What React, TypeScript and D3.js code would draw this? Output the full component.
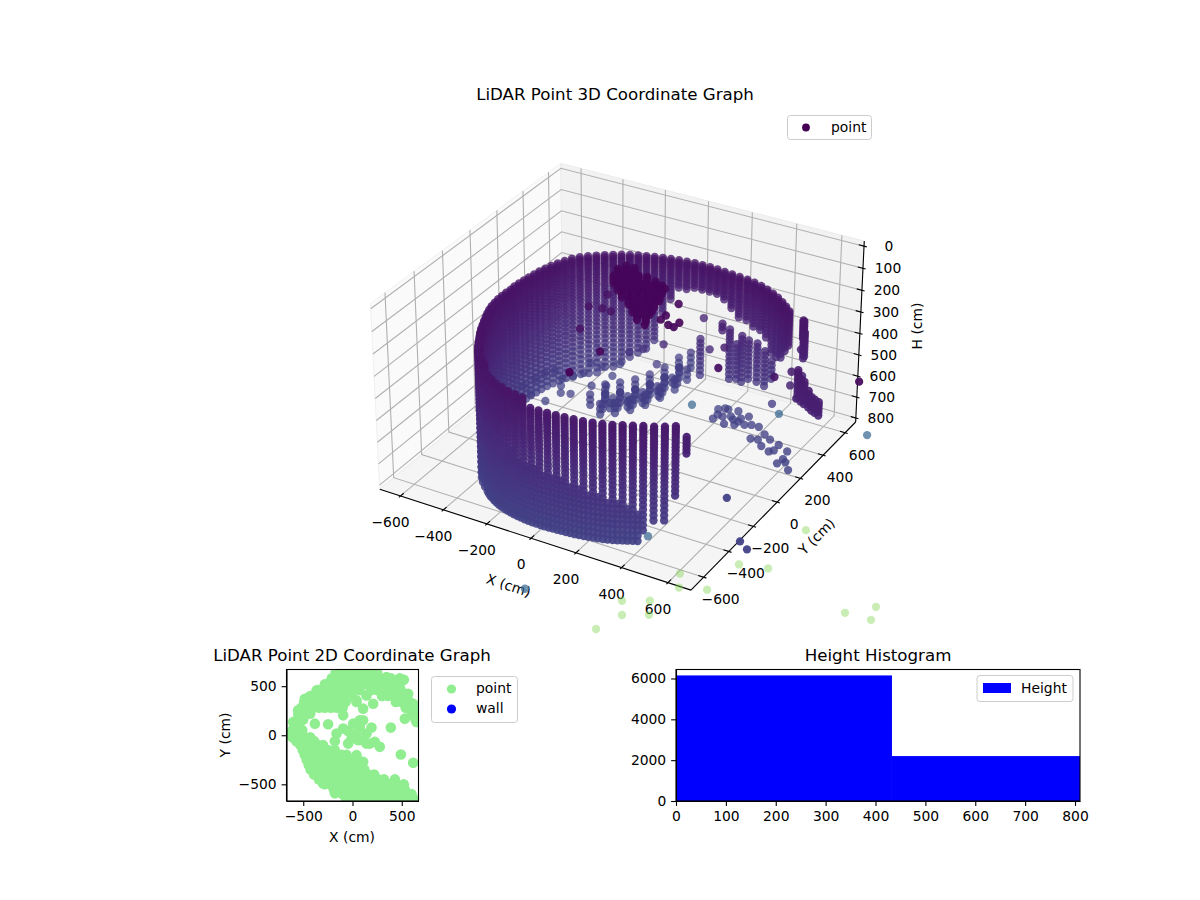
import { useEffect, useRef } from 'react';
import * as d3 from 'd3';

type Column = [number, number, number, number];
type Stray = [number, number, number, number];

// heights the scanner stepped through (cm), steps widen away from the sensor
const levels = [62, 73, 85, 96, 108, 119, 131, 142, 154, 165, 177, 188, 200, 210, 220, 230, 240, 251, 262, 274, 286, 298, 311, 324, 338, 352, 367, 382, 398, 414, 431, 448, 466, 484, 503, 522, 542, 562, 583, 604, 626, 648, 671, 694, 718, 742, 767, 792];

// wall columns: azimuth (deg), radius (cm), top and bottom height (cm)
const wallAngle = [178, 181.3, 184.6, 187.9, 191.2, 194.5, 197.8, 201.1, 204.4, 207.7, 211, 214.3, 217.6, 220.9, 224.2, 227.5, 230.8, 234.1, 237.4, 240.7, 244, 247.3, 250.6, 253.9, 257.2, 260.5, 263.8, 267.1, 270.4, 273.7, 277, 280.3, 283.6, 286.9, 290.2, 293.5, 296.8, 300.1, 303.4, 306.7, 310, 313.3, 316.6, 319.9,
  174.7, 171.3, 167.9, 164.5, 161.1, 157.7, 154.3, 150.9, 147.5, 144.1, 140.7, 137.3, 133.9, 130.5, 127.1, 123.7, 120.3, 116.9, 113.5, 110.1, 106.7, 103.3, 99.9, 96.5, 93.1, 89.7, 86.3, 82.9, 79.5, 76.1, 72.7, 69.3, 65.9, 62.5, 59.1, 55.7, 52.3, 48.9, 45.5, 42.1, 38.7];
const wallRadius = [525, 527, 529, 531, 533, 535, 536, 537, 538, 541, 545, 551, 557, 563, 572, 582, 592, 600, 606, 612, 620, 625, 630, 632, 634, 635, 636, 636, 636, 636, 637, 640, 643, 647, 650, 654, 658, 660, 664, 670, 680, 688, 696, 704,
  528, 530, 532, 536, 540, 547, 553, 560, 567, 573, 580, 582, 581, 580, 579, 578, 577, 576, 575, 574, 574, 575, 576, 578, 580, 583, 586, 589, 592, 596, 602, 610, 620, 628, 636, 642, 648, 653, 657, 661, 665];
const wallTop = [210, 210, 210, 210, 210, 210, 210, 210, 210, 210, 210, 210, 210, 210, 210, 210, 210, 210, 210, 210, 240, 240, 240, 240, 240, 240, 240, 269, 269, 269, 269, 269, 269, 269, 269, 269, 269, 269, 269, 269, 269, 269, 269, 315,
  210, 210, 210, 210, 210, 210, 210, 210, 210, 210, 210, 210, 210, 210, 210, 210, 210, 210, 210, 210, 210, 210, 210, 210, 210, 210, 210, 210, 210, 210, 210, 210, 210, 210, 210, 210, 210, 210, 210, 210, 210];
const wallBottom = [720, 735, 750, 760, 770, 780, 790, 798, 798, 798, 798, 798, 798, 798, 798, 798, 798, 798, 798, 798, 798, 798, 798, 798, 798, 798, 798, 798, 798, 798, 798, 798, 798, 798, 798, 798, 798, 798, 798, 752, 706, 706, 590, 407,
  780, 780, 780, 780, 780, 780, 780, 780, 780, 780, 780, 780, 780, 780, 760, 745, 730, 710, 680, 650, 610, 480, 400, 350, 340, 330, 330, 330, 330, 350, 380, 400, 400, 420, 430, 440, 500, 490, 470, 420, 380];

// the lower front of the wall is scanned more densely
const lowerAngle = [242.3, 245.6, 248.9, 252.2, 255.5, 258.8, 262.1, 265.4, 268.7, 272, 275.3, 278.6, 281.9, 285.2, 288.5, 291.8, 295.1, 298.4, 301.7, 305];
const lowerRadius = [616, 622, 627, 631, 633, 634, 635, 636, 636, 636, 636, 638, 641, 645, 648, 652, 656, 659, 662, 667];
const lowerTop = [430, 440, 450, 470, 490, 500, 527, 530, 540, 545, 550, 560, 570, 580, 590, 600, 610, 620, 640, 660];

// x, y, top, bottom (cm)
const floorArc: Column[] = [
  [-288, 235, 742, 798], [-239, 273, 742, 798], [-190, 311, 742, 798], [-148, 363, 742, 798], [-116, 429, 742, 798], [-91, 509, 742, 798], [-78, 612, 742, 798], [-77, 708, 718, 798],
  [-276, 337, 742, 798], [-231, 382, 742, 798], [-189, 434, 742, 798], [-157, 500, 742, 798], [-132, 581, 742, 798], [-120, 683, 742, 798],
  [-215, 191, 742, 798], [-167, 229, 742, 798], [-125, 281, 742, 798], [-92, 347, 742, 798], [-67, 428, 742, 798], [-47, 516, 742, 798], [-42, 613, 742, 798],
  [-258, 305, 767, 798], [-210, 346, 767, 798], [-168, 398, 767, 798], [-136, 465, 767, 798], [-112, 545, 767, 798], [-99, 648, 767, 798],
  [-227, 232, 767, 798], [-178, 270, 767, 798], [-136, 322, 767, 798], [-104, 388, 767, 798], [-79, 468, 767, 798], [-62, 564, 767, 798],
  [-214, 292, 767, 798], [-169, 337, 767, 798], [-132, 396, 767, 798], [-103, 469, 767, 798], [-84, 560, 767, 798], [-203, 251, 767, 798], [-146, 296, 767, 798], [-109, 355, 767, 798], [-80, 437, 767, 798],
  [-551, 197, 798, 798], [-469, 178, 798, 798], [-448, 266, 798, 798], [-409, 280, 798, 798],
];
const floorDots: Column[] = [
  [-613, 238, 798, 798], [-602, 311, 798, 798], [-591, 373, 798, 798], [-563, 409, 798, 798], [-502, 368, 798, 798], [-472, 405, 798, 798], [-449, 455, 798, 798], [-477, 316, 798, 798],
  [-367, 380, 798, 798], [-333, 494, 798, 798], [-465, 541, 798, 798], [-409, 535, 798, 798], [-354, 595, 798, 798], [-314, 410, 798, 798],
];
const rightBandA: Column[] = [
  [196, 400, 798, 798], [180, 476, 798, 798], [201, 497, 798, 798], [252, 451, 798, 798], [297, 430, 798, 798], [331, 420, 798, 798], [356, 434, 798, 798], [389, 435, 798, 798],
  [197, 438, 798, 798], [223, 434, 798, 798], [216, 496, 798, 798], [271, 434, 798, 798], [255, 386, 798, 798], [295, 400, 798, 798], [295, 457, 798, 798], [316, 487, 798, 798], [259, 503, 798, 798],
];
const rightBandB: Column[] = [
  [402, 338, 798, 798], [431, 346, 798, 798], [436, 395, 798, 798], [474, 370, 798, 798], [523, 351, 798, 798], [466, 309, 798, 798], [511, 287, 798, 798], [525, 304, 798, 798],
  [575, 324, 798, 798], [587, 264, 798, 798], [581, 224, 798, 798], [606, 247, 798, 798], [642, 201, 798, 798],
];
const shelfColumns: Column[] = [
  [219, 490, 407, 660], [244, 505, 476, 660], [273, 494, 430, 660], [286, 529, 453, 660], [327, 525, 453, 660], [369, 511, 476, 660], [368, 576, 545, 660], [209, 443, 361, 407], [64, 528, 522, 706],
];
const cornerColumns: Column[] = [
  [592, 403, 223, 407], [600, 395, 269, 384], [585, 410, 223, 315], [754, 89, 292, 407], [711, 120, 269, 407], [801, 60, 338, 407], [841, 40, 338, 407], [735, 100, 292, 407], [780, 75, 315, 407], [820, 50, 338, 407],
];
const singleDots: Column[] = [
  [69, 545, 430, 430], [175, 401, 476, 476], [331, 231, 338, 338], [599, 367, 338, 338], [-6, 344, 476, 476], [-143, 534, 706, 706], [-214, 427, 614, 614], [-157, 443, 591, 591],
  [533, -201, 154, 154], [677, -15, 246, 246], [646, 194, 338, 338], [621, 237, 430, 430], [670, 194, 453, 453], [419, 488, 706, 706], [662, 256, 384, 384],
  [-161, 162, 200, 200], [-176, 40, 200, 200], [-121, 52, 200, 200], [-80, 48, 200, 200], [-113, -133, 200, 200], [125, -384, 108, 108], [146, -642, 62, 62],
];
const lampBlob: Column[] = [
  [-106, 148, 62, 96], [-89, 185, 62, 96], [-53, 188, 62, 96], [-91, 90, 62, 96], [-67, 113, 62, 96], [-38, 130, 62, 96], [-6, 139, 62, 96], [27, 148, 62, 96], [76, 129, 62, 96], [114, 113, 62, 96],
  [-48, 48, 62, 96], [-23, 71, 62, 96], [9, 81, 62, 96], [42, 90, 62, 96], [78, 92, 62, 96], [123, 80, 62, 96], [-5, 6, 62, 96], [24, 23, 62, 96], [56, 32, 62, 96], [89, 41, 62, 96], [125, 44, 62, 96],
  [45, -31, 62, 96], [77, -21, 62, 96], [111, -13, 62, 96], [143, -3, 62, 96], [92, -79, 62, 96], [124, -70, 62, 96], [157, -62, 62, 96], [135, -121, 62, 96], [172, -119, 62, 96],
  [136, 98, 62, 62], [241, 16, 62, 62], [242, -126, 62, 62], [287, -148, 62, 62], [315, -112, 62, 62], [313, -152, 62, 62], [243, -88, 62, 62], [165, 0, 62, 62], [181, -86, 62, 62], [157, -127, 62, 62], [209, -193, 62, 62],
];

// points that fall outside the box: x, y, z, colour value
const strayPoints: Stray[] = [
  [624, -650, 798, 3300], [634, -674, 844, 3300], [727, -625, 851, 3300], [462, -802, 887, 3300], [552, -750, 887, 3300], [475, -825, 934, 3300], [562, -774, 934, 3300], [404, -896, 980, 3300],
  [992, -345, 655, 3300], [807, -525, 768, 3300], [905, -477, 781, 3300], [1195, -404, 927, 3300], [1290, -337, 907, 3300], [1286, -367, 950, 3300],
  [1102, -78, 343, 1300], [136, -964, 848, 1300], [486, -650, 675, 1300], [507, -357, 243, 1300], [797, -209, 273, 1300],
  [1027, -8, 167, 130], [819, -486, 718, 800], [789, -486, 692, 800], [706, -441, 549, 800],
];

// 2D view, x and y (cm)
const planX = [-619, -535, -484, -433, -382, -298, -179, -61, 74, 210, 345, 481, 582,
  -602, -552, -484, -365, -247, -162, -61, 74, 210, 345, 481, 565, 616, 650, 521,
  531, 650, 616, 491, 389, -247, -382, -95, -179, 41, 108, 41, 108, 210, 142, 108, 7, -95, -162, 41, 108, 193, 176, 277, -44, 58, 142, 74, -44, 74, -10, 227, 142];
const planY = [17, -51, -152, -288, -389, -491, -592, -660, -694, -694, -660, -643, -643,
  135, 254, 372, 457, 525, 609, 643, 643, 626, 592, 525, 423, 321, 237, 565,
  169, 135, -281, -196, 78, 112, 118, 203, -61, -203, -271, 355, 271, 321, 406, 152, 118, 68, 17, 17, -51, 78, -85, -118, -85, -51, 17, 85, 44, 152, -34, -68, -85];
// filled parts of the two wall bands: row y, then x positions
const planRows: [number, number[]][] = [
  [640, [-170, -110, -50, 10, 70, 130, 190, 250]],
  [580, [-210, -150, -90, -30, 30, 90, 150, 210, 270, 330, 390, 480]],
  [520, [-280, -220, -160, -100, -40, 20, 80, 140, 200, 260, 320, 380, 440]],
  [460, [-350, -290, -230, -170, -110, -50, 10, 70, 190, 250, 310, 370, 430, 490]],
  [400, [-430, -370, -310, -250, -190, -130, -70, -10, 300, 360, 420, 480, 540]],
  [340, [-490, -430, -370, -310, -250, -190, -130, -70, 40, 440, 500, 580]],
  [280, [-520, -460, -400, -340, -280, -220, -160, -100, 540, 600]],
  [220, [-550, -490, -430, 600, 650]],
  [160, [-560, -500, 640]],
  [100, [-590, -540]],
  [50, [-610, -560, -510]],
  [-20, [-610, -550, -490, -430]],
  [-60, [-570, -510, -450, -390]],
  [-100, [-530, -470, -410, -350, -300]],
  [-150, [-505, -430, -370, -310, -250, -180]],
  [-200, [-485, -410, -350, -290, -230, -170, -110, -60]],
  [-250, [-465, -390, -330, -270, -210, -150, -90, -30]],
  [-300, [-445, -370, -310, -250, -190, -130, -70, -10, 40]],
  [-350, [-425, -350, -290, -230, -170, -110, -50, 10, 70, 120]],
  [-400, [-390, -320, -260, -200, -140, -80, -20, 40, 100, 160, 220]],
  [-450, [-340, -280, -220, -160, -100, -40, 20, 80, 140, 200, 260, 320, 430]],
  [-500, [-280, -220, -160, -100, -40, 20, 80, 140, 200, 260, 320, 380, 440, 520]],
  [-550, [-190, -130, -70, -10, 50, 110, 170, 230, 290, 350, 410, 470, 530]],
  [-600, [-100, -40, 20, 80, 140, 200, 260, 320, 380, 440, 500, 560, 600]],
  [-650, [-60, 20, 80, 140, 200, 260, 320, 380, 440, 500, 560, 620]],
];

const histEdges = [0, 433, 810];
const histCounts = [6150, 2200];

const axisTicks3d = [-600, -400, -200, 0, 200, 400, 600];
const heightTicks = [0, 100, 200, 300, 400, 500, 600, 700, 800];
const planTicks = [-500, 0, 500];
const histXTicks = [0, 100, 200, 300, 400, 500, 600, 700, 800];
const histYTicks = [0, 2000, 4000, 6000];

const FONT = '"DejaVu Sans", sans-serif';

// same camera as mplot3d: elev 30, azim -60, dist 10
const U = [0.866025, 0.5, 0];
const V = [-0.25, 0.433013, 0.866025];
const W = [0.433013, -0.75, 0.5];
const boxX = d3.scaleLinear().domain([-670, 670]).range([-0.5952, 0.5952]);
const boxZ = d3.scaleLinear().domain([802, -6]).range([-0.355, 0.355]);
const screenX = d3.scaleLinear().domain([0, 1]).range([622.3, 622.3 + 2860]);
const screenY = d3.scaleLinear().domain([0, 1]).range([365, 365 - 2860]);

const project = (x: number, y: number, z: number) => {
  const q = [boxX(x), boxX(y), boxZ(z)];
  const dot = (a: number[]) => a[0] * q[0] + a[1] * q[1] + a[2] * q[2];
  const d = 10 - dot(W);
  return { px: screenX(dot(U) / d), py: screenY(dot(V) / d), d };
};

const App = () => {
  const svgRef = useRef<SVGSVGElement | null>(null);

  useEffect(() => {
    if (!svgRef.current) return;
    const svg = d3.select(svgRef.current);
    svg.selectAll('*').remove();

    const text = (g: any, x: number, y: number, s: string, size = 13.89, anchor = 'middle', rotate = 0) => {
      g.append('text')
        .attr('transform', `translate(${x},${y}) rotate(${rotate})`)
        .attr('text-anchor', anchor)
        .attr('font-family', FONT)
        .attr('font-size', size)
        .attr('fill', '#000')
        .text(s);
    };

    const legendBox = (x: number, y: number, w: number, h: number) => {
      svg.append('rect')
        .attr('x', x).attr('y', y).attr('width', w).attr('height', h).attr('rx', 3)
        .attr('fill', '#fff').attr('fill-opacity', 0.8)
        .attr('stroke', '#ccc').attr('stroke-width', 1);
    };

    // ---------- 3D panel ----------
    const g3 = svg.append('g');
    const pane = 698;
    const zTop = -23;
    const zBot = 819;
    const pathOf = (pts: [number, number, number][]) => {
      const p = pts.map(c => project(c[0], c[1], c[2]));
      return d3.line<any>().x(d => d.px).y(d => d.py)(p) as string;
    };
    const drawPane = (pts: [number, number, number][], fill: string) => {
      g3.append('path').attr('d', pathOf(pts) + 'Z').attr('fill', fill).attr('stroke', fill === '#fafafa' ? '#f0f0f0' : '#ececec').attr('stroke-width', 1);
    };
    drawPane([[-pane, -pane, zBot], [-pane, pane, zBot], [-pane, pane, zTop], [-pane, -pane, zTop]], '#fafafa');
    drawPane([[-pane, pane, zBot], [pane, pane, zBot], [pane, pane, zTop], [-pane, pane, zTop]], '#f2f2f2');
    drawPane([[-pane, -pane, zBot], [pane, -pane, zBot], [pane, pane, zBot], [-pane, pane, zBot]], '#f5f5f5');

    const grid = (pts: [number, number, number][]) => {
      g3.append('path').attr('d', pathOf(pts)).attr('fill', 'none').attr('stroke', '#b0b0b0').attr('stroke-width', 1.1);
    };
    axisTicks3d.forEach(t => {
      grid([[t, -pane, zBot], [t, pane, zBot], [t, pane, zTop]]);
      grid([[pane, t, zBot], [-pane, t, zBot], [-pane, t, zTop]]);
    });
    heightTicks.forEach(t => {
      grid([[-pane, -pane, t], [-pane, pane, t], [pane, pane, t]]);
    });

    const ink = (pts: [number, number, number][]) => {
      g3.append('path').attr('d', pathOf(pts)).attr('fill', 'none').attr('stroke', '#000').attr('stroke-width', 1.1);
    };
    ink([[-pane, -pane, zBot], [pane, -pane, zBot]]);
    ink([[pane, -pane, zBot], [pane, pane, zBot]]);
    ink([[pane, pane, zBot], [pane, pane, zTop]]);

    axisTicks3d.forEach(t => {
      ink([[t, -pane - 12, zBot], [t, -pane + 23, zBot]]);
      const a = project(t, -pane, zBot);
      text(g3, a.px - 10, a.py + 31, String(t).replace('-', '\u2212'));
      ink([[pane + 12, t, zBot], [pane - 23, t, zBot]]);
      const b = project(pane, t, zBot);
      text(g3, b.px + 17, b.py + 27, String(t).replace('-', '\u2212'));
    });
    heightTicks.forEach(t => {
      ink([[pane + 12, pane, t], [pane - 23, pane, t]]);
      const c = project(pane, pane, t);
      text(g3, c.px + 25, c.py + 5, String(t));
    });

    text(g3, 507, 590, 'X (cm)', 13.89, 'middle', 18);
    text(g3, 820, 540, 'Y (cm)', 13.89, 'middle', -45);
    text(g3, 922, 326, 'H (cm)', 13.89, 'middle', -90);

    const color = d3.scaleSequential(d3.interpolateViridis).domain([0, 4100]);

    const cloud: { x: number; y: number; z: number; c: number }[] = [];
    const addColumn = (x: number, y: number, top: number, bottom: number) => {
      if (top === bottom) {
        cloud.push({ x, y, z: top, c: top });
        return;
      }
      levels.filter(l => l >= top && l <= bottom).forEach(l => cloud.push({ x, y, z: l, c: l }));
    };
    wallAngle.forEach((deg, i) => {
      const rad = (deg * Math.PI) / 180;
      addColumn(wallRadius[i] * Math.cos(rad), wallRadius[i] * Math.sin(rad), wallTop[i], wallBottom[i]);
    });
    lowerAngle.forEach((deg, i) => {
      const rad = (deg * Math.PI) / 180;
      addColumn(lowerRadius[i] * Math.cos(rad), lowerRadius[i] * Math.sin(rad), lowerTop[i], 798);
    });
    [floorArc, floorDots, rightBandA, rightBandB, shelfColumns, cornerColumns, singleDots, lampBlob].forEach(list => {
      list.forEach(col => addColumn(col[0], col[1], col[2], col[3]));
    });
    strayPoints.forEach(s => cloud.push({ x: s[0], y: s[1], z: s[2], c: s[3] }));

    const placed = cloud.map(p => ({ ...p, ...project(p.x, p.y, p.z) }));
    const depth = d3.scaleLinear()
      .domain(d3.extent(placed.filter(p => p.c < 1000), p => p.d) as [number, number])
      .range([0.97, 0.7])
      .clamp(true);
    placed.sort((a, b) => b.d - a.d);

    g3.append('g').selectAll('circle').data(placed).enter().append('circle')
      .attr('cx', d => d.px)
      .attr('cy', d => d.py)
      .attr('r', 4.15)
      .attr('fill', d => color(d.c))
      .attr('fill-opacity', d => (d.c > 3000 ? 0.42 : d.c > 1000 ? 0.7 : depth(d.d)));

    text(svg, 615, 100, 'LiDAR Point 3D Coordinate Graph', 16.67);
    legendBox(787.5, 115.5, 84, 24);
    svg.append('circle').attr('cx', 806).attr('cy', 127.5).attr('r', 3.9).attr('fill', color(0));
    text(svg, 831, 132, 'point', 13.89, 'start');

    // ---------- 2D panel ----------
    const planL = 286.5, planR = 418.5, planT = 669.5, planB = 801;
    const xPlan = d3.scaleLinear().domain([-670, 670]).range([planL, planR]);
    const yPlan = d3.scaleLinear().domain([-670, 670]).range([planB, planT]);
    const planPoints: [number, number][] = planX.map((x, i) => [x, planY[i]]);
    planRows.forEach(([y, xs]) => xs.forEach(x => planPoints.push([x, y])));
    svg.append('clipPath').attr('id', 'plan-clip').append('rect')
      .attr('x', planL).attr('y', planT).attr('width', planR - planL).attr('height', planB - planT);
    svg.append('g').attr('clip-path', 'url(#plan-clip)')
      .selectAll('circle').data(planPoints).enter().append('circle')
      .attr('cx', d => xPlan(d[0]))
      .attr('cy', d => yPlan(d[1]))
      .attr('r', 5.3)
      .attr('fill', '#90ee90');

    const styleAxis = (g: any) => {
      g.selectAll('text').attr('font-family', FONT).attr('font-size', 13.89).attr('fill', '#000');
      g.selectAll('line').attr('stroke', '#000').attr('stroke-width', 1.1);
      g.select('.domain').attr('stroke', '#000').attr('stroke-width', 1.1);
    };
    svg.append('g').attr('transform', `translate(0,${planB})`)
      .call(d3.axisBottom(xPlan).tickValues(planTicks).tickSize(4.9).tickSizeOuter(0).tickPadding(4.9).tickFormat(d3.format('d') as any))
      .call(styleAxis);
    svg.append('g').attr('transform', `translate(${planL},0)`)
      .call(d3.axisLeft(yPlan).tickValues(planTicks).tickSize(4.9).tickSizeOuter(0).tickPadding(4.9).tickFormat(d3.format('d') as any))
      .call(styleAxis);
    svg.append('rect').attr('x', planL).attr('y', planT).attr('width', planR - planL).attr('height', planB - planT)
      .attr('fill', 'none').attr('stroke', '#000').attr('stroke-width', 1.1);
    text(svg, 352, 661, 'LiDAR Point 2D Coordinate Graph', 16.67);
    text(svg, 352, 842, 'X (cm)');
    text(svg, 230, 735, 'Y (cm)', 13.89, 'middle', -90);
    legendBox(431.5, 676.5, 86, 46);
    svg.append('circle').attr('cx', 451.5).attr('cy', 689).attr('r', 4.6).attr('fill', '#90ee90');
    svg.append('circle').attr('cx', 451.5).attr('cy', 709).attr('r', 4.6).attr('fill', '#0000ff');
    text(svg, 476, 693, 'point', 13.89, 'start');
    text(svg, 476, 713, 'wall', 13.89, 'start');

    // ---------- histogram ----------
    const histL = 676, histR = 1080, histT = 669.5, histB = 801;
    const xHist = d3.scaleLinear().domain([0, 810]).range([histL, histR]);
    const yHist = d3.scaleLinear().domain([0, 6440]).range([histB, histT]);
    svg.append('g').selectAll('rect').data(histCounts).enter().append('rect')
      .attr('x', (_, i) => xHist(histEdges[i]))
      .attr('y', d => yHist(d))
      .attr('width', (_, i) => xHist(histEdges[i + 1]) - xHist(histEdges[i]))
      .attr('height', d => histB - yHist(d))
      .attr('fill', '#0000ff');
    svg.append('g').attr('transform', `translate(0,${histB})`)
      .call(d3.axisBottom(xHist).tickValues(histXTicks).tickSize(4.9).tickSizeOuter(0).tickPadding(4.9))
      .call(styleAxis);
    svg.append('g').attr('transform', `translate(${histL},0)`)
      .call(d3.axisLeft(yHist).tickValues(histYTicks).tickSize(4.9).tickSizeOuter(0).tickPadding(4.9).tickFormat(d3.format('d') as any))
      .call(styleAxis);
    svg.append('rect').attr('x', histL).attr('y', histT).attr('width', histR - histL).attr('height', histB - histT)
      .attr('fill', 'none').attr('stroke', '#000').attr('stroke-width', 1.1);
    text(svg, 878, 661, 'Height Histogram', 16.67);
    legendBox(977, 675.5, 96, 26);
    svg.append('rect').attr('x', 983).attr('y', 683).attr('width', 28).attr('height', 10).attr('fill', '#0000ff');
    text(svg, 1021, 693, 'Height', 13.89, 'start');
  }, []);

  return <svg ref={svgRef} width={1200} height={900} style={{ position: 'absolute', left: 0, top: 0, background: '#fff' }} />;
};

export default App;
